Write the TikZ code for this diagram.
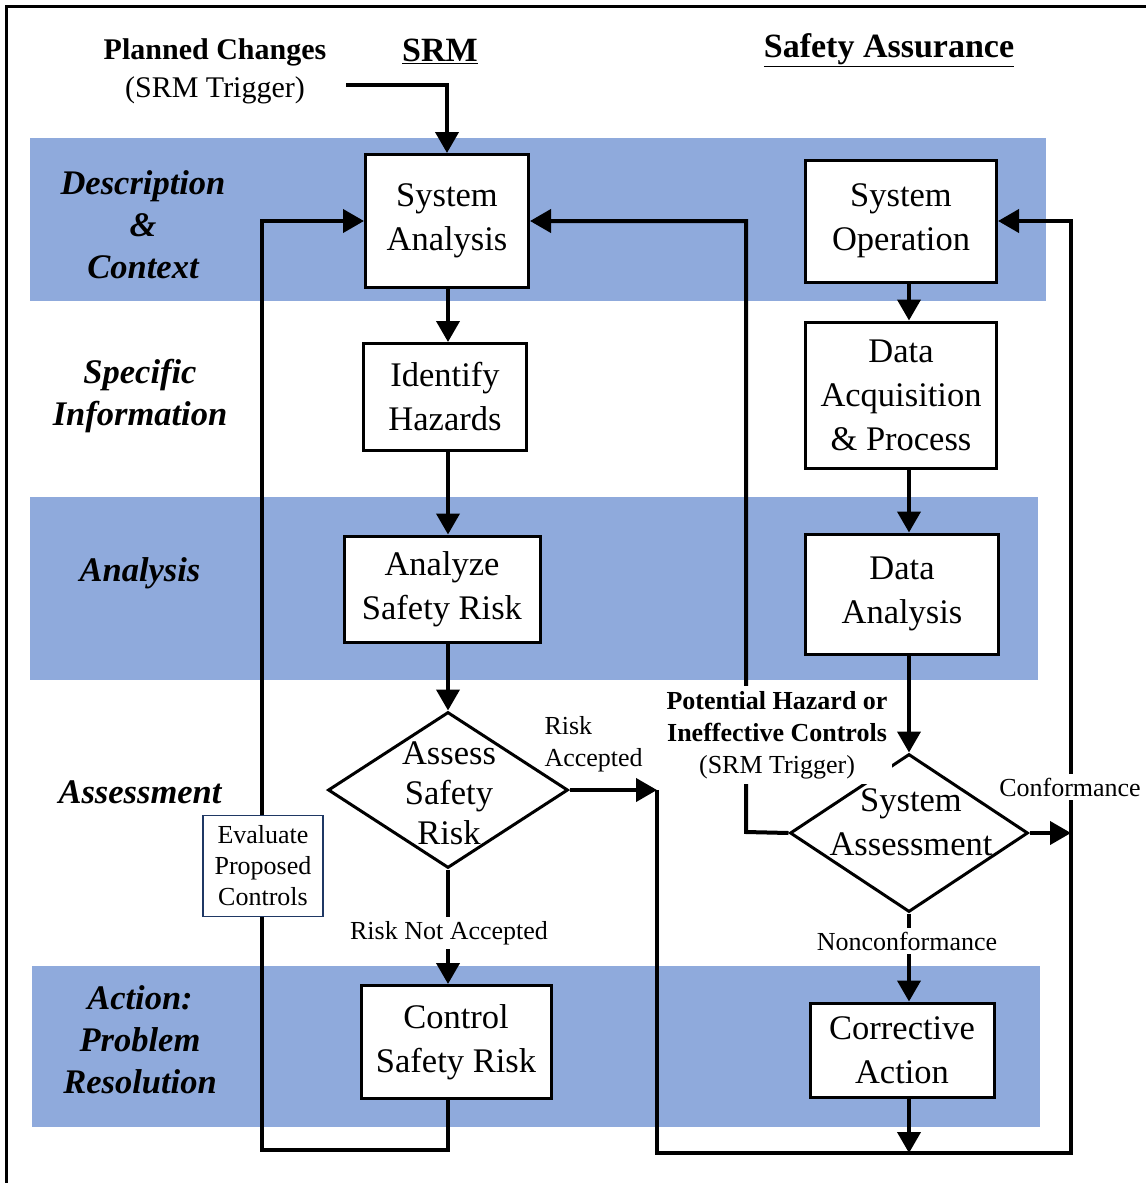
\documentclass[tikz,border=0pt]{standalone}
\usepackage{fontspec}
\setmainfont{Liberation Serif}
\usetikzlibrary{shapes.geometric,arrows.meta}
\definecolor{band}{HTML}{8FAADC}
\definecolor{evb}{HTML}{1F3864}
\begin{document}
\begin{tikzpicture}[x=1pt,y=-1pt,
  box/.style={draw, line width=3pt, fill=white, align=center, inner sep=0pt,
    font=\fontsize{34.5}{44}\selectfont},
  dia/.style={draw, diamond, line width=3pt, fill=white, inner sep=0pt},
  dtext/.style={align=center, inner sep=0pt, font=\fontsize{34.5}{40}\selectfont},
  rowlab/.style={align=center, font=\fontsize{34.5}{42}\selectfont\bfseries\itshape},
  lab/.style={align=center, font=\fontsize{26}{32}\selectfont},
  wlab/.style={lab, fill=white, inner sep=4pt},
  ar/.style={line width=4pt, -{Triangle[length=21pt,width=23pt]}},
  bandbox/.style={fill=band, draw=none}]
\useasboundingbox (0,0) rectangle (1146,1183);
\fill[white] (0,0) rectangle (1146,1183);
% frame
\draw[line width=3pt] (6,1183) -- (6,6) -- (1146,6);
% bands
\fill[bandbox] (30,138) rectangle (1046,301);
\fill[bandbox] (30,497) rectangle (1038,680);
\fill[bandbox] (32,966) rectangle (1040,1127);
% headings
\node[align=center, font=\fontsize{30}{38}\selectfont] (pc) at (215,71)
  {\textbf{Planned Changes}\\(SRM Trigger)};
\node[font=\fontsize{34}{36}\selectfont\bfseries] (srm) at (440,51) {\underline{SRM}};
\node[font=\fontsize{34}{36}\selectfont\bfseries] (saf) at (889,50) {\underline{Safety Assurance}};
% row labels
\node[rowlab] (r1) at (143,225) {Description\\\&\\Context};
\node[rowlab] (r2) at (140,396) {Specific\\Information};
\node[rowlab] (r3) at (140,573) {Analysis};
\node[rowlab] (r4) at (140,792) {Assessment};
\node[rowlab] (r5) at (140,1040) {Action:\\Problem\\Resolution};
% SRM column
\node[box, minimum width=163, minimum height=133] (sa) at (447,221) {System\\Analysis};
\node[box, minimum width=163, minimum height=107] (ih) at (445,397) {Identify\\Hazards};
\node[box, minimum width=196, minimum height=106] (an) at (442,589) {Analyze\\Safety Risk};
\node[dia, minimum width=240, minimum height=156] (as) at (448,790) {};
\node[dtext] at (449,793) {Assess\\Safety\\Risk};
\node[box, minimum width=190, minimum height=113] (cs) at (456,1042) {Control\\Safety Risk};
% SA column
\node[box, minimum width=191, minimum height=122] (so) at (901,221) {System\\Operation};
\node[box, minimum width=191, minimum height=146] (dq) at (901,395) {Data\\Acquisition\\\& Process};
\node[box, minimum width=193, minimum height=120] (da) at (902,594) {Data\\Analysis};
\node[dia, minimum width=238, minimum height=158] (sas) at (909,833) {};
\node[dtext, font=\fontsize{34.5}{44}\selectfont] at (911,822) {System\\Assessment};
\node[box, minimum width=184, minimum height=94] (ca) at (902,1050) {Corrective\\Action};
% connector corners
\coordinate (pcend) at (346,85);
\coordinate (lb) at (262,1150);
\coordinate (ra) at (657,790);
\coordinate (rb) at (1071,1153);
\coordinate (ph) at (746,832);
% SRM flow
\draw[ar] (pcend) -| (sa.north);
\draw[ar] (sa.south -| as.north) -- (ih.north -| as.north);
\draw[ar] (ih.south -| as.north) -- (an.north -| as.north);
\draw[ar] (an.south -| as.north) -- (as.north);
\draw[ar] (as.south) -- (cs.north -| as.south);
\draw[ar] (cs.south -| as.south) |- (lb) |- (sa.west);
\draw[ar] (as.east) -- (ra);
\draw[ar] (ra) |- (rb) |- (so.east);
% SA flow
\draw[ar] (so.south -| sas.north) -- (dq.north -| sas.north);
\draw[ar] (dq.south -| sas.north) -- (da.north -| sas.north);
\draw[ar] (da.south -| sas.north) -- (sas.north);
\draw[ar] (sas.south) -- (ca.north -| sas.south);
\draw[ar] (ca.south -| sas.south) -- (sas.south |- rb);
\draw[ar] (sas.east) -- (sas.east -| rb);
\draw[ar] (sas.west) -- (ph) |- (sa.east);
% labels on lines
\node[draw=evb, line width=1.5pt, fill=white, align=center, inner sep=2pt,
  minimum width=120, minimum height=101, font=\fontsize{26}{31}\selectfont] (ev) at (263,866)
  {Evaluate\\Proposed\\Controls};
\node[wlab] (rna) at (449,933) {Risk Not Accepted};
\node[lab, align=left, anchor=west] (rac) at (541,744) {Risk\\Accepted};
\node[wlab, align=center, inner sep=5pt] (phl) at (777,735)
  {\textbf{Potential Hazard or}\\\textbf{Ineffective Controls}\\(SRM Trigger)};
\node[wlab] (conf) at (1070,787) {Conformance};
\node[wlab] (nonc) at (907,941) {Nonconformance};
\end{tikzpicture}
\end{document}
